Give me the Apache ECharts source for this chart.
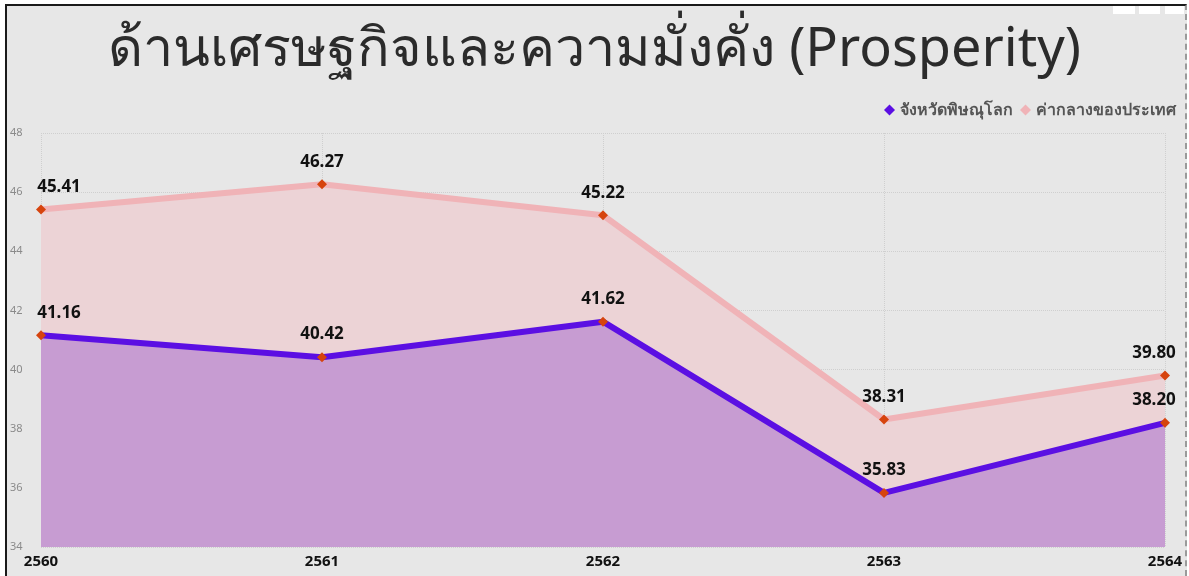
<!DOCTYPE html>
<html>
<head>
<meta charset="utf-8">
<script src="https://cdn.jsdelivr.net/npm/echarts@6/dist/echarts.min.js"></script>
<style>
html,body{margin:0;padding:0;background:#fff;width:1189px;height:576px;overflow:hidden;}
#frame{position:absolute;left:5px;top:4px;width:1178px;height:580px;background:#e7e7e7;
border-left:2px solid #1a1a1a;border-top:2px solid #1a1a1a;border-right:2px dashed #9a9a9a;}
#main{position:absolute;left:0;top:0;width:1189px;height:576px;}
</style>
</head>
<body>
<div id="frame"></div>
<div id="main"></div>
<script>
let years=["2560","2561","2562","2563","2564"];
let province=[41.16,40.42,41.62,35.83,38.20];
let national=[45.41,46.27,45.22,38.31,39.80];
let yTicks={min:34,max:48,interval:2};

var chart=echarts.init(document.querySelector("#main"));
let labelFmt=function(p){return p.value.toFixed(2);};
function withOffsets(arr){
	return arr.map(function(v,i){
		let o={value:v};
		if(i==0) o.label={offset:[18,0]};
		if(i==arr.length-1) o.label={offset:[-11,0]};
		return o;
	});
}
option={
	textStyle:{fontFamily:"'Noto Sans','Open Sans',sans-serif"},
	title:{
		text:"ด้านเศรษฐกิจและความมั่งคั่ง (Prosperity)",
		left:"center",
		top:19,
		textStyle:{fontSize:54,fontWeight:"normal",color:"#2b2b2b"}
	},
	legend:{
		right:8,
		top:97,
		icon:"diamond",
		itemWidth:11,
		itemHeight:11,
		itemGap:7,
		textStyle:{fontSize:16,fontWeight:"bold",color:"#555"},
		data:[
			{name:"จังหวัดพิษณุโลก",itemStyle:{color:"#5b0fe3"}},
			{name:"ค่ากลางของประเทศ",itemStyle:{color:"#f0b3b7"}}
		]
	},
	grid:{left:41,right:24,top:133,bottom:29},
	xAxis:{
		type:"category",
		data:years,
		boundaryGap:false,
		axisLine:{show:false},
		axisTick:{show:false},
		axisLabel:{color:"#111",fontWeight:"bold",fontSize:15,margin:7},
		splitLine:{show:true,lineStyle:{type:"dotted",color:"#cfcfcf"}}
	},
	yAxis:{
		type:"value",
		min:yTicks.min,
		max:yTicks.max,
		interval:yTicks.interval,
		axisLine:{show:false},
		axisTick:{show:false},
		axisLabel:{color:"#8a8a8a",fontSize:11,align:"left",margin:31},
		splitLine:{show:true,lineStyle:{type:"dotted",color:"#cfcfcf"}}
	},
	series:[
		{
			name:"ค่ากลางของประเทศ",
			type:"line",
			data:withOffsets(national),
			z:2,
			symbol:"diamond",
			symbolSize:10,
			itemStyle:{color:"#d6440e"},
			lineStyle:{color:"#f0b3b7",width:6},
			areaStyle:{color:"#ecd3d6",opacity:1},
			label:{show:true,position:"top",distance:9,formatter:labelFmt,color:"#111",fontWeight:"bold",fontSize:17}
		},
		{
			name:"จังหวัดพิษณุโลก",
			type:"line",
			data:withOffsets(province),
			z:3,
			symbol:"diamond",
			symbolSize:10,
			itemStyle:{color:"#d6440e"},
			lineStyle:{color:"#5b0fe3",width:6},
			areaStyle:{color:"#c79cd2",opacity:1},
			label:{show:true,position:"top",distance:9,formatter:labelFmt,color:"#111",fontWeight:"bold",fontSize:17}
		}
	],
	graphic:[
		{type:"rect",shape:{x:1113,y:6,width:22,height:8},style:{fill:"#fff"}},
		{type:"rect",shape:{x:1139,y:6,width:21,height:8},style:{fill:"#fff"}},
		{type:"rect",shape:{x:1165,y:6,width:19,height:8},style:{fill:"#fff"}}
	]
};
chart.setOption(option);
</script>
</body>
</html>
